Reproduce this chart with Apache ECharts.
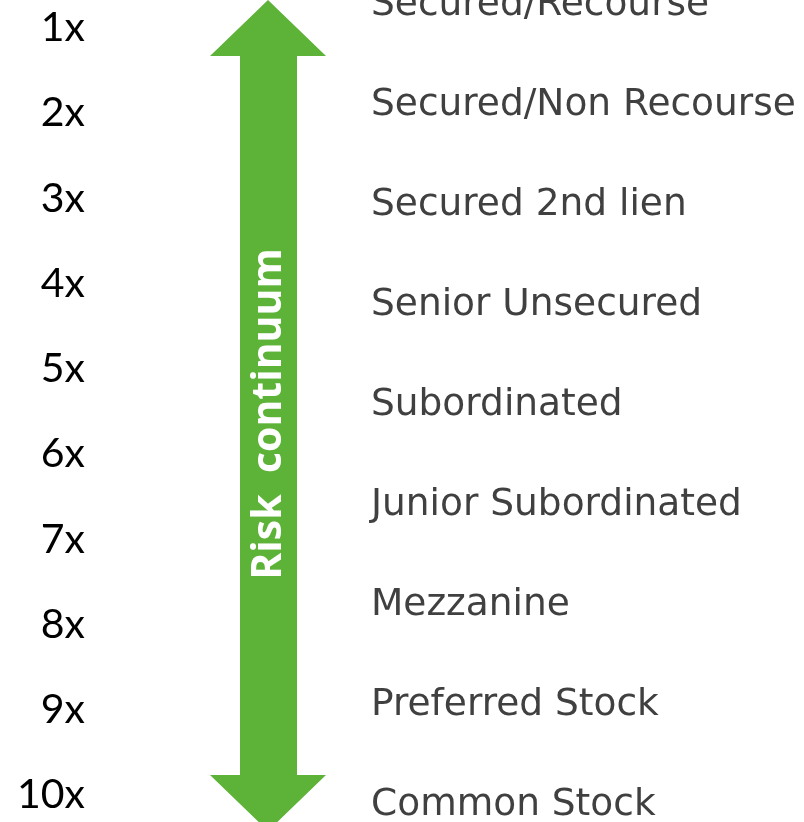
<!DOCTYPE html>
<html>
<head>
<meta charset="utf-8">
<script src="https://cdn.jsdelivr.net/npm/echarts@6/dist/echarts.min.js"></script>
<style>
  html, body { margin: 0; padding: 0; background: #fff; }
  #main { width: 804px; height: 822px; }
</style>
</head>
<body>
<div id="main"></div>
<script>
// leverage multiples on the left, capital structure tranches on the right
var leverage = ['1x', '2x', '3x', '4x', '5x', '6x', '7x', '8x', '9x', '10x']
var tranches = [
  'Secured/Recourse',
  'Secured/Non Recourse',
  'Secured 2nd lien',
  'Senior Unsecured',
  'Subordinated',
  'Junior Subordinated',
  'Mezzanine',
  'Preferred Stock',
  'Common Stock'
]
var arrowLabel = 'Risk  continuum'

var green = '#5db337'

var hiddenAxis = {
  axisLine: { show: false },
  axisTick: { show: false },
  splitLine: { show: false }
}

var option = {
  backgroundColor: '#fff',
  animation: false,
  grid: [
    // leverage column
    { left: 80, width: 10, top: 28, bottom: 27, outerBoundsMode: 'none' },
    // tranche column, first label is cut by the top edge on purpose
    { left: 350, width: 13, top: 5, bottom: 17, outerBoundsMode: 'none' }
  ],
  xAxis: [
    { gridIndex: 0, type: 'value', show: false },
    { gridIndex: 1, type: 'value', show: false }
  ],
  yAxis: [
    Object.assign({
      gridIndex: 0,
      type: 'category',
      position: 'left',
      inverse: true,
      boundaryGap: false,
      data: leverage,
      axisLabel: {
        margin: -5,
        fontFamily: 'Lato',
        fontSize: 41,
        color: '#000',
        interval: 0
      }
    }, hiddenAxis),
    Object.assign({
      gridIndex: 1,
      type: 'category',
      position: 'right',
      inverse: true,
      boundaryGap: false,
      data: tranches,
      axisLabel: {
        margin: 8,
        fontFamily: 'DejaVu Sans',
        fontSize: 37.5,
        color: '#404040',
        interval: 0
      }
    }, hiddenAxis)
  ],
  series: [],
  graphic: [
    {
      type: 'polygon',
      z: 1,
      shape: {
        points: [
          [268, 0], [326, 56], [297, 56], [297, 775], [326, 775],
          [268, 831], [210, 775], [240, 775], [240, 56], [210, 56]
        ]
      },
      style: { fill: green }
    },
    {
      type: 'text',
      z: 2,
      x: 269,
      y: 414,
      rotation: Math.PI / 2,
      style: {
        text: arrowLabel,
        fontFamily: 'Open Sans',
        fontWeight: 'bold',
        fontSize: 41,
        fill: '#fff',
        align: 'center',
        verticalAlign: 'middle'
      }
    }
  ]
}

var myChart = echarts.init(document.getElementById('main'))
myChart.setOption(option)
</script>
</body>
</html>
